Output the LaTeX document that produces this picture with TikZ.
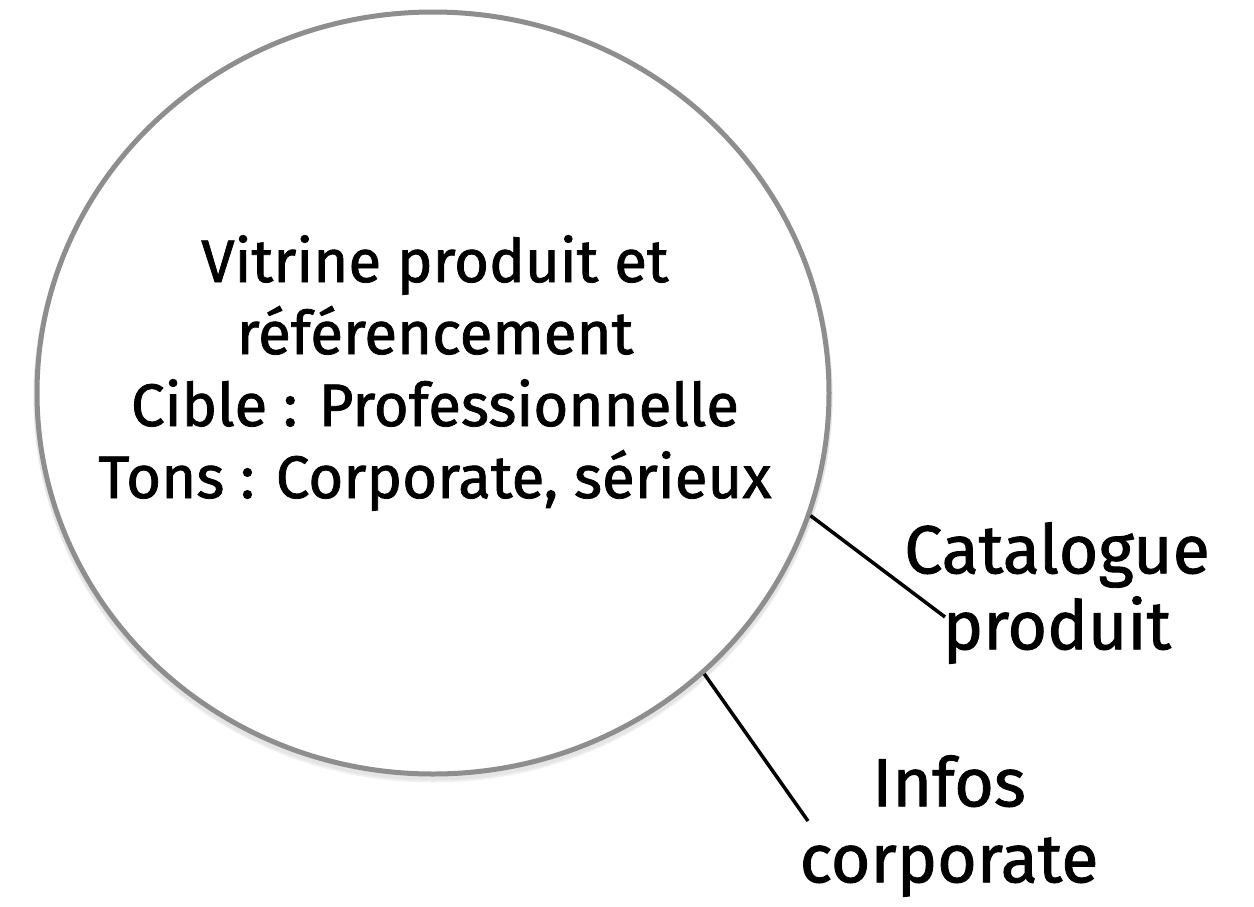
\documentclass[tikz,border=0pt]{standalone}
\usepackage{fontspec}
\setmainfont[FakeBold=1.3]{Fira Sans}
\usetikzlibrary{shapes.geometric}
\definecolor{rim}{HTML}{8E8E8E}
\tikzset{
  bubble/.style={ellipse, draw=rim, line width=5pt, minimum width=792pt,
    minimum height=762pt, inner sep=0pt},
  bubbleshade/.style={ellipse, draw=black!#1, line width=7pt, minimum width=792pt,
    minimum height=762pt, inner sep=0pt},
  maintext/.style={align=center, font=\fontsize{60}{72}\selectfont, inner sep=0pt},
  sidetext/.style={align=center, font=\fontsize{68}{76}\selectfont, inner sep=0pt},
  link/.style={line width=3.5pt, black}
}
\begin{document}
\begin{tikzpicture}[x=1pt, y=-1pt]
  \useasboundingbox (0,0) rectangle (1254,906);
  % soft shadow under the rim
  \node[bubbleshade=6] at (433,398) {};
  \node[bubbleshade=10] at (433,396) {};
  \node[bubble, fill=white] (c) at (433,393) {};
  \node[maintext] (t) at (435,373) {Vitrine produit et\\référencement\\Cible : Professionnelle\\Tons : Corporate, sérieux};
  \node[sidetext] (cat) at (1057,593) {Catalogue\\produit};
  \node[sidetext] (inf) at (949,826) {Infos\\corporate};
  \coordinate (catend) at (945,617);
  \coordinate (infend) at (808,821);
  \draw[link] (c.-18.85) -- (catend);
  \draw[link] (c.-46.6) -- (infend);
\end{tikzpicture}
\end{document}
